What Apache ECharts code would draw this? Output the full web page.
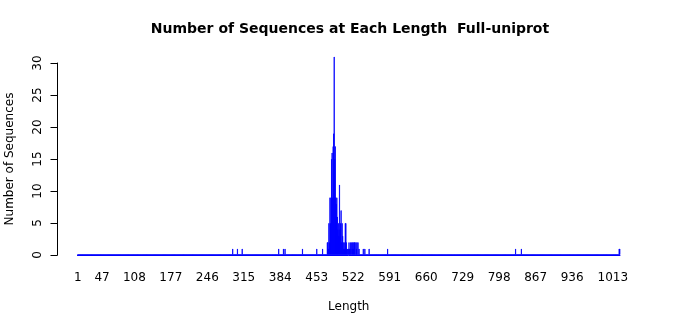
<!DOCTYPE html>
<html>
<head>
<meta charset="utf-8">
<script src="https://cdn.jsdelivr.net/npm/echarts@6/dist/echarts.min.js"></script>
<style>html,body{margin:0;padding:0;background:#fff}#chart{width:700px;height:315px}</style>
</head>
<body>
<div id="chart"></div>
<script>
// Sequence lengths that occur, and how many sequences have each length
const lengths = [294,303,312,381,390,393,426,453,464,
  473,474,475,476,477,478,479,480,481,482,483,484,485,486,487,488,489,490,
  491,492,493,494,495,496,497,498,499,500,501,502,503,504,505,506,507,508,
  509,510,511,513,514,515,516,517,519,520,521,522,523,524,525,527,528,529,
  531,533,541,544,552,587,829,840,1025,1026];
const counts = [1,1,1,1,1,1,1,1,1,
  2,2,1,5,2,9,5,9,15,16,9,17,19,31,15,17,9,8,
  9,6,4,5,3,11,4,5,7,2,5,3,2,1,2,1,5,5,
  2,1,1,1,2,1,1,2,2,1,2,2,1,2,2,2,1,2,
  2,1,1,1,1,1,1,1,1,1];
const maxLength = 1026;
const tickLabels = ['1','47','108','177','246','315','384','453','522','591','660','729','798','867','936','1013'];

const categories = [];
const values = [];
const countByLength = {};
lengths.forEach((l, i) => { countByLength[l] = counts[i]; });
for (let l = 1; l <= maxLength; l++) {
  categories.push(String(l));
  values.push(countByLength[l] || 0);
}
const labelSet = new Set(tickLabels);

const font = 'DejaVu Sans';
const chart = echarts.init(document.getElementById('chart'), null, {renderer: 'canvas'});
chart.setOption({
  animation: false,
  backgroundColor: '#ffffff',
  title: {
    text: 'Number of Sequences at Each Length  Full-uniprot',
    left: 'center',
    top: 22.5,
    padding: 0,
    textStyle: {fontFamily: font, fontSize: 14, fontWeight: 'bold', color: '#000'}
  },
  grid: {left: 77.5, width: 542.5, top: 63, height: 192, containLabel: false, outerBoundsMode: 'none'},
  xAxis: {
    type: 'category',
    data: categories,
    name: 'Length',
    nameLocation: 'middle',
    nameGap: 46,
    nameTextStyle: {fontFamily: font, fontSize: 12, color: '#000'},
    axisLine: {show: true, lineStyle: {color: '#0000ff', width: 1}},
    axisTick: {show: false},
    axisLabel: {
      interval: (idx, val) => labelSet.has(val),
      hideOverlap: false,
      margin: 17,
      fontFamily: font, fontSize: 12, color: '#000'
    },
    splitLine: {show: false}
  },
  yAxis: {
    type: 'value',
    min: 0, max: 30, interval: 5,
    offset: 20,
    name: 'Number of Sequences',
    nameLocation: 'middle',
    nameGap: 42,
    nameRotate: 90,
    nameTextStyle: {fontFamily: font, fontSize: 12, color: '#000'},
    axisLine: {show: true, lineStyle: {color: '#000', width: 1}},
    axisTick: {show: true, length: 7, lineStyle: {color: '#000'}},
    axisLabel: {rotate: 90, margin: 14, fontFamily: font, fontSize: 12, color: '#000'},
    splitLine: {show: false}
  },
  series: [{
    type: 'bar',
    data: values,
    barWidth: '83%',
    clip: false,
    itemStyle: {color: '#0000ff', borderColor: '#0000ff', borderWidth: 0.8}
  }]
});
</script>
</body>
</html>
